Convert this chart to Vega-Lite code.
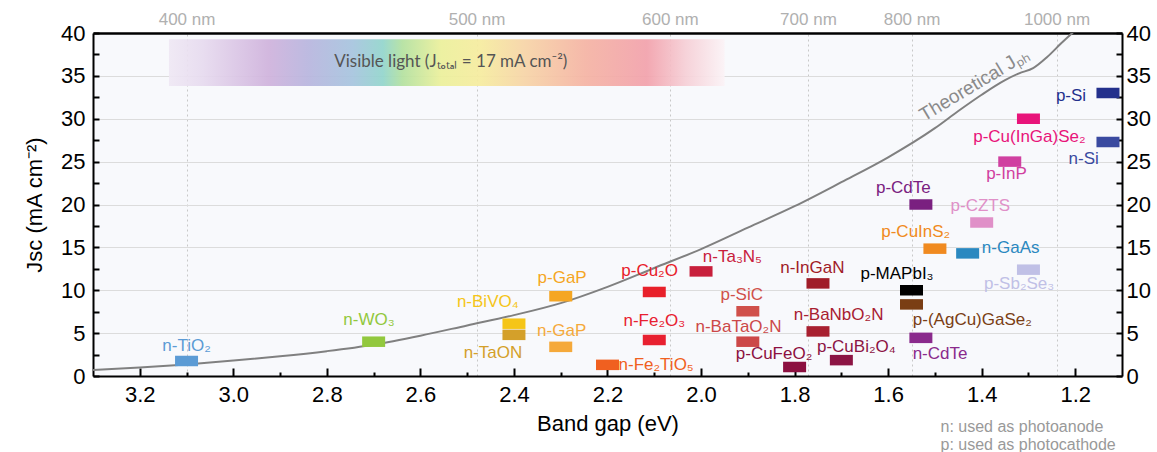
{
  "$schema": "https://vega.github.io/schema/vega-lite/v6.json",
  "width": 1029,
  "height": 343,
  "autosize": {"type": "none"},
  "padding": {"left": 93, "top": 33, "right": 35, "bottom": 76},
  "background": "white",
  "view": {"fill": "#f8f9fc", "stroke": null},
  "config": {"font": "Liberation Sans"},
  "datasets": {
    "curve": [
      {"eg": 3.3, "j": 0.7}, {"eg": 3.2, "j": 1.0}, {"eg": 3.1, "j": 1.35}, {"eg": 3.0, "j": 1.8},
      {"eg": 2.9, "j": 2.3}, {"eg": 2.8, "j": 2.9}, {"eg": 2.7, "j": 3.65}, {"eg": 2.6, "j": 4.7},
      {"eg": 2.5, "j": 5.9}, {"eg": 2.4, "j": 7.1}, {"eg": 2.3, "j": 8.5}, {"eg": 2.2, "j": 10.4},
      {"eg": 2.1, "j": 12.6}, {"eg": 2.0, "j": 14.8}, {"eg": 1.9, "j": 17.3}, {"eg": 1.8, "j": 19.8},
      {"eg": 1.7, "j": 22.6}, {"eg": 1.6, "j": 25.5}, {"eg": 1.5, "j": 28.9}, {"eg": 1.45, "j": 30.9},
      {"eg": 1.4, "j": 32.8}, {"eg": 1.35, "j": 34.5}, {"eg": 1.32, "j": 35.3}, {"eg": 1.29, "j": 35.9},
      {"eg": 1.26, "j": 37.2}, {"eg": 1.23, "j": 38.8}, {"eg": 1.2, "j": 40.3}, {"eg": 1.15, "j": 42.5}
    ],
    "materials": [
      {"m": "n-TiO₂", "eg": 3.1, "j": 1.75, "lx": 3.1, "ly": 3.5},
      {"m": "n-WO₃", "eg": 2.7, "j": 4.0, "lx": 2.71, "ly": 6.5},
      {"m": "n-BiVO₄", "eg": 2.4, "j": 6.1, "lx": 2.456, "ly": 8.6},
      {"m": "n-TaON", "eg": 2.4, "j": 4.8, "lx": 2.445, "ly": 2.7},
      {"m": "p-GaP", "eg": 2.3, "j": 9.3, "lx": 2.297, "ly": 11.4},
      {"m": "n-GaP", "eg": 2.3, "j": 3.4, "lx": 2.298, "ly": 5.3},
      {"m": "n-Fe₂TiO₅", "eg": 2.2, "j": 1.3, "lx": 2.096, "ly": 1.3},
      {"m": "p-Cu₂O", "eg": 2.1, "j": 9.8, "lx": 2.11, "ly": 12.2},
      {"m": "n-Fe₂O₃", "eg": 2.1, "j": 4.2, "lx": 2.1, "ly": 6.4},
      {"m": "n-Ta₃N₅", "eg": 2.0, "j": 12.2, "lx": 1.933, "ly": 13.9},
      {"m": "p-SiC", "eg": 1.9, "j": 7.55, "lx": 1.913, "ly": 9.45},
      {"m": "n-BaTaO₂N", "eg": 1.9, "j": 4.0, "lx": 1.92, "ly": 5.7},
      {"m": "n-InGaN", "eg": 1.75, "j": 10.8, "lx": 1.762, "ly": 12.65},
      {"m": "n-BaNbO₂N", "eg": 1.75, "j": 5.2, "lx": 1.706, "ly": 7.1},
      {"m": "p-CuFeO₂", "eg": 1.8, "j": 1.05, "lx": 1.844, "ly": 2.57},
      {"m": "p-CuBi₂O₄", "eg": 1.7, "j": 1.85, "lx": 1.668, "ly": 3.4},
      {"m": "p-MAPbI₃", "eg": 1.55, "j": 10.0, "lx": 1.581, "ly": 11.9},
      {"m": "p-(AgCu)GaSe₂", "eg": 1.55, "j": 8.35, "lx": 1.42, "ly": 6.5},
      {"m": "n-CdTe", "eg": 1.53, "j": 4.45, "lx": 1.489, "ly": 2.6},
      {"m": "p-CdTe", "eg": 1.53, "j": 20.0, "lx": 1.5675, "ly": 21.9},
      {"m": "p-CuInS₂", "eg": 1.5, "j": 14.85, "lx": 1.541, "ly": 16.8},
      {"m": "n-GaAs", "eg": 1.43, "j": 14.3, "lx": 1.338, "ly": 14.9},
      {"m": "p-CZTS", "eg": 1.4, "j": 17.9, "lx": 1.403, "ly": 19.85},
      {"m": "p-Sb₂Se₃", "eg": 1.3, "j": 12.4, "lx": 1.32, "ly": 10.7},
      {"m": "p-InP", "eg": 1.34, "j": 25.0, "lx": 1.347, "ly": 23.5},
      {"m": "p-Cu(InGa)Se₂", "eg": 1.3, "j": 30.0, "lx": 1.298, "ly": 27.9},
      {"m": "p-Si", "eg": 1.13, "j": 33.0, "lx": 1.209, "ly": 32.6},
      {"m": "n-Si", "eg": 1.13, "j": 27.3, "lx": 1.182, "ly": 25.3}
    ]
  },
  "resolve": {"axis": {"x": "independent", "y": "independent"}},
  "layer": [
    {
      "data": {"values": [{"x1": 3.1376, "x2": 1.9496, "y1": 33.82, "y2": 39.27}]},
      "mark": {
        "type": "rect",
        "opacity": 0.92,
        "fill": {
          "gradient": "linear", "x1": 0, "y1": 0, "x2": 1, "y2": 0,
          "stops": [
            {"offset": 0, "color": "#efe8f4"},
            {"offset": 0.06, "color": "#e7dbef"},
            {"offset": 0.18, "color": "#cfb2dc"},
            {"offset": 0.25, "color": "#b8b5de"},
            {"offset": 0.33, "color": "#a6c4de"},
            {"offset": 0.385, "color": "#92d5cc"},
            {"offset": 0.42, "color": "#b3e19f"},
            {"offset": 0.49, "color": "#ecf09a"},
            {"offset": 0.56, "color": "#f6ec9e"},
            {"offset": 0.64, "color": "#f7d4a6"},
            {"offset": 0.75, "color": "#f5b3a3"},
            {"offset": 0.86, "color": "#f2a1ab"},
            {"offset": 0.93, "color": "#f6cfd6"},
            {"offset": 1, "color": "#fbf3f6"}
          ]
        }
      },
      "encoding": {
        "x": {
          "field": "x1", "type": "quantitative",
          "scale": {"domain": [3.3, 1.1], "nice": false, "zero": false},
          "axis": {
            "orient": "bottom", "title": "Band gap (eV)",
            "values": [3.2, 3.1, 3.0, 2.9, 2.8, 2.7, 2.6, 2.5, 2.4, 2.3, 2.2, 2.1, 2.0, 1.9, 1.8, 1.7, 1.6, 1.5, 1.4, 1.3, 1.2],
            "labelExpr": "round(datum.value*10) % 2 == 0 ? format(datum.value, '.1f') : ''",
            "tickSize": {"condition": {"test": "round(datum.value*10) % 2 == 0", "value": -8}, "value": -4},
            "tickWidth": 2, "tickColor": "black",
            "domainColor": "black", "domainWidth": 2,
            "grid": false,
            "labelFontSize": 22, "labelColor": "black", "labelPadding": 16,
            "labelFlush": false, "labelOverlap": false, "labelBound": false,
            "titleFontSize": 22, "titleFontWeight": "normal", "titleColor": "black", "titlePadding": 4
          }
        },
        "x2": {"field": "x2"},
        "y": {
          "field": "y1", "type": "quantitative",
          "scale": {"domain": [0, 40], "nice": false, "zero": false},
          "axis": {
            "orient": "left", "title": "Jsc (mA cm⁻²)",
            "values": [0, 2.5, 5, 7.5, 10, 12.5, 15, 17.5, 20, 22.5, 25, 27.5, 30, 32.5, 35, 37.5, 40],
            "labelExpr": "datum.value % 5 == 0 ? format(datum.value, 'd') : ''",
            "tickSize": -6, "tickWidth": 2, "tickColor": "black",
            "domainColor": "black", "domainWidth": 2,
            "grid": true, "gridColor": "#dcdcdc", "gridWidth": 1,
            "gridOpacity": {"condition": {"test": "datum.value % 5 == 0", "value": 1}, "value": 0},
            "labelFontSize": 22, "labelColor": "black", "labelPadding": 14,
            "labelFlush": false, "labelOverlap": false,
            "titleFontSize": 22, "titleFontWeight": "normal", "titleColor": "black", "titlePadding": 14
          }
        },
        "y2": {"field": "y2"}
      }
    },
    {
      "data": {"values": [{"t": "Visible light (Jₜₒₜₐₗ = 17 mA cm⁻²)", "x": 2.535, "y": 36.65}]},
      "mark": {"type": "text", "font": "Lato", "fontSize": 17, "color": "#555555"},
      "encoding": {
        "x": {
          "field": "x", "type": "quantitative",
          "axis": {
            "orient": "top", "title": null,
            "values": [3.1, 2.48, 2.0667, 1.7714, 1.55, 1.24],
            "labelExpr": "format(1240/datum.value, '.0f') + ' nm'",
            "ticks": false, "labelPadding": 5,
            "labelFontSize": 17, "labelColor": "#b0b0b0",
            "domainColor": "black", "domainWidth": 2.5,
            "grid": true, "gridColor": "#c8c8c8", "gridDash": [2, 3], "gridWidth": 1,
            "labelFlush": false, "labelOverlap": false
          }
        },
        "y": {
          "field": "y", "type": "quantitative",
          "axis": {
            "orient": "right", "title": null,
            "values": [0, 2.5, 5, 7.5, 10, 12.5, 15, 17.5, 20, 22.5, 25, 27.5, 30, 32.5, 35, 37.5, 40],
            "labelExpr": "datum.value % 5 == 0 ? format(datum.value, 'd') : ''",
            "tickSize": -6, "tickWidth": 2, "tickColor": "black",
            "domainColor": "black", "domainWidth": 2,
            "grid": false,
            "labelFontSize": 22, "labelColor": "black", "labelPadding": 10,
            "labelFlush": false, "labelOverlap": false
          }
        },
        "text": {"field": "t"}
      }
    },
    {
      "data": {"name": "curve"},
      "mark": {"type": "line", "color": "#808080", "strokeWidth": 2, "interpolate": "monotone", "clip": true},
      "encoding": {
        "x": {"field": "eg", "type": "quantitative", "axis": null},
        "y": {"field": "j", "type": "quantitative", "axis": null}
      }
    },
    {
      "data": {"values": [{"t": "Theoretical Jₚₕ", "x": 1.415, "y": 34.0}]},
      "mark": {"type": "text", "angle": -31, "fontSize": 19, "color": "#8a8a8a"},
      "encoding": {
        "x": {"field": "x", "type": "quantitative", "axis": null},
        "y": {"field": "y", "type": "quantitative", "axis": null},
        "text": {"field": "t"}
      }
    },
    {
      "data": {"name": "materials"},
      "mark": {"type": "tick", "orient": "horizontal", "size": 23, "thickness": 10.5, "opacity": 1},
      "encoding": {
        "x": {"field": "eg", "type": "quantitative", "axis": null},
        "y": {"field": "j", "type": "quantitative", "axis": null},
        "color": {
          "field": "m", "type": "nominal", "legend": null,
          "scale": {
            "domain": ["n-TiO₂", "n-WO₃", "n-BiVO₄", "n-TaON", "p-GaP", "n-GaP", "n-Fe₂TiO₅", "p-Cu₂O", "n-Fe₂O₃", "n-Ta₃N₅", "p-SiC", "n-BaTaO₂N", "n-InGaN", "n-BaNbO₂N", "p-CuFeO₂", "p-CuBi₂O₄", "p-MAPbI₃", "p-(AgCu)GaSe₂", "n-CdTe", "p-CdTe", "p-CuInS₂", "n-GaAs", "p-CZTS", "p-Sb₂Se₃", "p-InP", "p-Cu(InGa)Se₂", "p-Si", "n-Si"],
            "range": ["#5b9bd5", "#92c83e", "#f5c518", "#d4a02a", "#f5a623", "#f5a93a", "#f06020", "#e8202a", "#e82030", "#c8203c", "#d0504a", "#cc4848", "#a01c28", "#a82030", "#8c1040", "#8c1444", "#000000", "#7a3e14", "#8a2a8c", "#7a2080", "#f08a20", "#2a88c0", "#e090c8", "#c0c0e6", "#d040a0", "#e8147a", "#23308c", "#3a4aa0"]
          }
        }
      }
    },
    {
      "data": {"name": "materials"},
      "mark": {"type": "text", "fontSize": 17},
      "encoding": {
        "x": {"field": "lx", "type": "quantitative", "axis": null},
        "y": {"field": "ly", "type": "quantitative", "axis": null},
        "text": {"field": "m"},
        "color": {"field": "m", "type": "nominal", "legend": null}
      }
    },
    {
      "data": {"values": [
        {"t": "n: used as photoanode", "x": 1.488, "y": -5.9},
        {"t": "p: used as photocathode", "x": 1.488, "y": -8.1}
      ]},
      "mark": {"type": "text", "align": "left", "fontSize": 16, "color": "#999999", "clip": false},
      "encoding": {
        "x": {"field": "x", "type": "quantitative", "axis": null},
        "y": {"field": "y", "type": "quantitative", "axis": null},
        "text": {"field": "t"}
      }
    }
  ]
}
